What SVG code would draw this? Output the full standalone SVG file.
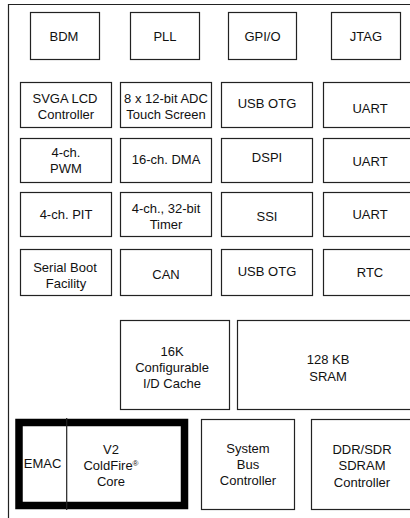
<svg xmlns="http://www.w3.org/2000/svg" width="410" height="518" viewBox="0 0 410 518">
<style>
.b{fill:#fff;stroke:#222;stroke-width:1.2}
text{font-family:"Liberation Sans",Arial,sans-serif;font-size:13px;fill:#111;text-anchor:middle}
</style>
<rect x="0" y="0" width="410" height="518" fill="#fff"/>
<g id="frame"><path d="M8.5 518V4.5H412" fill="none" stroke="#222" stroke-width="1.2"/></g>
<g id="bdm"><rect class="b" x="30.5" y="12.5" width="69" height="47"/><text x="64" y="41">BDM</text></g>
<g id="pll"><rect class="b" x="130.5" y="12.5" width="69" height="47"/><text x="165" y="41">PLL</text></g>
<g id="gpio"><rect class="b" x="228.5" y="12.5" width="68" height="47"/><text x="262.5" y="41">GPI/O</text></g>
<g id="jtag"><rect class="b" x="331.5" y="12.5" width="69" height="47"/><text x="366" y="41">JTAG</text></g>

<g id="svga"><rect class="b" x="20.5" y="82.5" width="91" height="45"/><text x="65" y="102.5">SVGA LCD</text><text x="66" y="119">Controller</text></g>
<g id="adc"><rect class="b" x="120.5" y="82.5" width="91" height="45"/><text x="166" y="102.5">8 x 12-bit ADC</text><text x="166" y="119">Touch Screen</text></g>
<g id="usb1"><rect class="b" x="221.5" y="82.5" width="91" height="45"/><text x="267" y="107.5">USB OTG</text></g>
<g id="uart1"><rect class="b" x="323.5" y="82.5" width="100" height="45"/><text x="370" y="112.5">UART</text></g>

<g id="pwm"><rect class="b" x="20.5" y="138.5" width="91" height="44"/><text x="66" y="157">4-ch.</text><text x="66" y="173">PWM</text></g>
<g id="dma"><rect class="b" x="120.5" y="138.5" width="91" height="44"/><text x="166" y="164">16-ch. DMA</text></g>
<g id="dspi"><rect class="b" x="221.5" y="138.5" width="91" height="44"/><text x="267" y="162">DSPI</text></g>
<g id="uart2"><rect class="b" x="323.5" y="138.5" width="100" height="44"/><text x="370" y="165.5">UART</text></g>

<g id="pit"><rect class="b" x="20.5" y="192.5" width="91" height="44"/><text x="66" y="219">4-ch. PIT</text></g>
<g id="timer"><rect class="b" x="120.5" y="192.5" width="91" height="44"/><text x="166" y="212.5">4-ch., 32-bit</text><text x="166" y="229">Timer</text></g>
<g id="ssi"><rect class="b" x="221.5" y="192.5" width="91" height="44"/><text x="267" y="220.5">SSI</text></g>
<g id="uart3"><rect class="b" x="323.5" y="192.5" width="100" height="44"/><text x="370" y="218.5">UART</text></g>

<g id="sbf"><rect class="b" x="20.5" y="249.5" width="91" height="46"/><text x="65" y="271.5">Serial Boot</text><text x="66" y="288.3">Facility</text></g>
<g id="can"><rect class="b" x="120.5" y="249.5" width="91" height="46"/><text x="166" y="279.3">CAN</text></g>
<g id="usb2"><rect class="b" x="221.5" y="249.5" width="91" height="46"/><text x="267" y="276">USB OTG</text></g>
<g id="rtc"><rect class="b" x="323.5" y="249.5" width="100" height="46"/><text x="370" y="277.3">RTC</text></g>

<g id="cache"><rect class="b" x="120.5" y="320.5" width="109" height="89"/><text x="172" y="355.7">16K</text><text x="172" y="372">Configurable</text><text x="172" y="387.5">I/D Cache</text></g>
<g id="sram"><rect class="b" x="237.5" y="320.5" width="180" height="89"/><text x="328" y="364">128 KB</text><text x="328" y="380.7">SRAM</text></g>

<g id="core"><rect x="19" y="422.5" width="165.5" height="83" fill="#fff" stroke="#000" stroke-width="7.5"/><line x1="66.7" y1="418" x2="66.7" y2="510" stroke="#222" stroke-width="1.2"/><text x="42.5" y="468.3">EMAC</text><text x="111" y="454">V2</text><text x="111" y="470">ColdFire<tspan font-size="8" dy="-4">®</tspan></text><text x="111" y="485.7">Core</text></g>
<g id="sbc"><rect class="b" x="201.5" y="419.5" width="93" height="90"/><text x="248" y="453">System</text><text x="248" y="469.3">Bus</text><text x="248" y="485">Controller</text></g>
<g id="ddr"><rect class="b" x="311.5" y="419.5" width="110" height="90"/><text x="362" y="454">DDR/SDR</text><text x="362" y="470">SDRAM</text><text x="362" y="486.5">Controller</text></g>
<g id="connectors"/>
</svg>
